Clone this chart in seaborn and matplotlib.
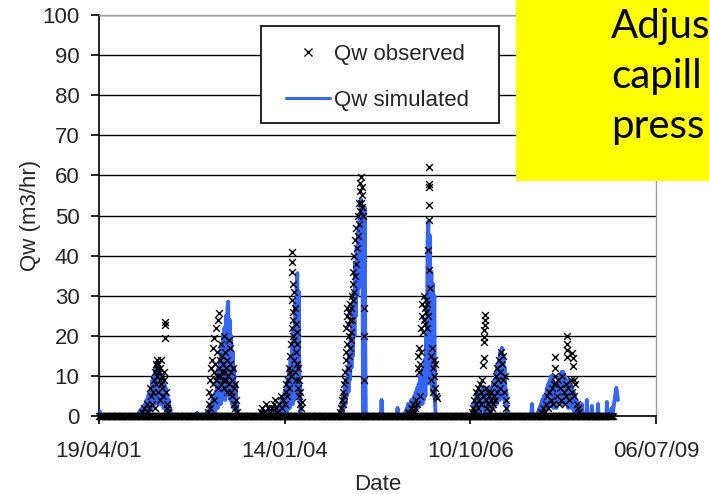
import numpy as np
import pandas as pd
import matplotlib
matplotlib.use("Agg")
import matplotlib.pyplot as plt
import matplotlib.dates as mdates
from matplotlib.patches import Rectangle
from matplotlib.lines import Line2D
import seaborn as sns

# start of record, all days below are counted from here
start = pd.Timestamp("2001-04-19")
tick_dates = ["2001-04-19", "2004-01-14", "2006-10-10", "2009-07-06"]

# observed flow is zero on every record outside the wet periods (daily records, every 3rd shown)
obs_zero_days = np.arange(0, 2769, 3)

# observed Qw (m3/hr) during the wet periods
obs_days_1 = [232, 243, 250, 259, 264, 270, 275, 280, 285, 291, 296, 300, 302, 305, 307, 310, 312, 315, 318,
              320, 323, 326, 329, 331, 334, 336, 339, 342, 345, 348, 350, 355, 356, 358, 361, 364, 367, 372]
obs_q_1 = [1, 2, 0.5, 3, 1, 2, 7, 5, 3, 6, 9, 2, 11, 13, 8, 14, 12, 10, 13,
           6, 11, 9, 12, 4, 8, 14, 10, 7, 5, 11, 9, 23.5, 22.8, 19.5, 6, 3, 2, 1]

obs_days_2 = [585, 590, 594, 598, 600, 603, 606, 609, 612, 614, 617, 620, 622, 625, 628, 630, 633, 636, 639,
              641, 644, 647, 650, 652, 655, 658, 660, 663, 666, 669, 672, 674, 677, 680, 683, 686, 689, 692,
              695, 698, 701, 704, 707, 710, 713, 716, 719, 722, 725, 728, 731, 734, 738, 742]
obs_q_2 = [1, 3, 6, 9, 2, 12, 5, 14, 8, 17, 11, 19.5, 4, 13, 22, 9, 16, 10, 24,
           7, 12, 25.8, 14, 10, 18, 8, 11, 15, 9, 13, 20, 7, 11, 16, 9, 12, 6, 14,
           10, 19, 8, 13, 17, 6, 11, 9, 5, 12, 7, 3, 8, 2, 4, 1]

obs_days_3 = [870, 880, 890, 900, 910, 920, 930, 940, 950, 955, 960, 970, 980, 985, 990, 1000, 1005, 1010,
              1015, 1020, 1023, 1026, 1029, 1031, 1033, 1035, 1037, 1039, 1040, 1041, 1042, 1043, 1044, 1045,
              1047, 1049, 1051, 1053, 1055, 1057, 1059, 1061, 1063, 1065, 1067, 1069, 1071, 1073, 1075, 1078,
              1081, 1085, 1089, 1093]
obs_q_3 = [1, 2, 1, 3, 2, 1, 2, 3, 4, 2, 1, 3, 5, 2, 4, 3, 6, 8,
           5, 9, 12, 7, 11, 15, 10, 18, 22, 29, 41, 38.5, 36, 33, 26, 20,
           24, 14, 31, 19, 27, 11, 23, 16, 9, 21, 13, 18, 7, 12, 5, 9,
           3, 6, 2, 3.5]

obs_days_4 = [1300, 1304, 1308, 1312, 1316, 1320, 1322, 1324, 1326, 1328, 1330, 1332, 1334, 1336, 1338, 1340,
              1342, 1344, 1346, 1348, 1350, 1352, 1354, 1356, 1358, 1360, 1362, 1364, 1366, 1368, 1370, 1372,
              1375, 1378, 1381, 1384, 1387, 1390, 1393, 1396, 1399, 1402, 1404, 1406, 1408, 1410, 1412, 1414,
              1416, 1418, 1420, 1427, 1428, 1429]
obs_q_4 = [1, 2, 4, 3, 6, 8, 5, 11, 9, 16, 22, 14, 25, 18, 27, 12,
           23, 15, 26, 20, 17, 24, 28, 21, 19, 27, 30, 24, 33, 29, 36, 31,
           40, 35, 44, 38, 47, 42, 50, 45, 53, 48, 56, 51, 58, 53, 59.5, 55,
           52, 57, 50, 27, 20, 9]

obs_days_5 = [1666, 1672, 1678, 1684, 1690, 1696, 1702, 1708, 1713, 1716, 1719, 1722, 1725, 1728, 1730, 1733,
              1736, 1739, 1742, 1745, 1748, 1751, 1754, 1757, 1760, 1763, 1766, 1769, 1772, 1774, 1775, 1776,
              1777, 1778, 1779, 1780, 1782, 1786, 1790, 1794, 1797, 1800, 1803, 1806, 1809, 1812, 1815, 1818]
obs_q_5 = [1, 0.5, 2, 1, 3, 1, 2, 4, 3, 12, 15, 11, 17, 13, 5, 16,
           22, 25, 28, 21, 30, 24, 27, 23, 29, 26, 22, 28, 25, 41.4, 49, 52.6,
           57, 57.8, 62, 36.4, 32, 15, 9, 17, 12, 6, 14, 10, 7, 13, 5, 4.5]

obs_days_6 = [2010, 2016, 2020, 2024, 2028, 2032, 2036, 2040, 2044, 2048, 2052, 2056, 2060, 2064, 2068, 2071,
              2073, 2074, 2075, 2076, 2077, 2078, 2079, 2082, 2086, 2090, 2094, 2098, 2102, 2106, 2110, 2114,
              2118, 2122, 2126, 2130, 2134, 2138, 2142, 2146, 2150, 2154, 2158, 2162, 2166, 2170, 2174, 2178,
              2182, 2186, 2190, 2194]
obs_q_6 = [1, 2, 4, 1, 6, 3, 5, 2, 7, 4, 8, 3, 6, 9, 5, 12.7,
           14.4, 18.5, 19.8, 21.5, 22.7, 24, 25.2, 4, 7, 2, 6, 3, 5, 1, 4, 6,
           2, 3, 5, 8, 4, 10, 6, 12, 9, 14, 7, 11, 16, 13, 9, 15,
           6, 10, 4, 2]

obs_days_7 = [2380, 2390, 2400, 2408, 2414, 2420, 2426, 2432, 2438, 2444, 2450, 2454, 2456, 2458, 2460, 2466,
              2472, 2478, 2484, 2490, 2496, 2502, 2508, 2514, 2518, 2520, 2521, 2522, 2523, 2528, 2534, 2540,
              2546, 2550, 2552, 2554, 2556, 2560, 2566, 2572, 2578, 2584]
obs_q_7 = [1, 2, 1, 3, 5, 2, 6, 4, 7, 3, 8, 14.8, 12, 10, 8.3, 5,
           9, 3, 7, 4, 10, 6, 3, 8, 5, 20, 18, 16.5, 14.8, 7, 4, 9,
           6, 15.6, 14.4, 12.4, 9, 5, 8, 3, 2, 1]

# simulated Qw (m3/hr), jumpy day to day
sim_days_0 = [0, 4, 7, 10, 524, 528, 532]
sim_q_0 = [0, 1.2, 0.4, 0, 0, 0.8, 0]

sim_days_1 = [212, 216, 220, 224, 228, 232, 236, 240, 244, 248, 252, 256, 260, 264, 268, 272, 276, 280, 284,
              288, 292, 296, 300, 304, 308, 312, 316, 320, 324, 328, 332, 336, 340, 344, 348, 352, 356, 360,
              364, 368, 372, 376, 380, 384, 388]
sim_q_1 = [0, 1, 0, 1.5, 0, 2, 0.5, 2.5, 0.5, 3, 1, 4, 1, 5, 1, 6, 2, 7, 2,
           9, 3, 10, 3, 12, 4, 13, 3, 12.5, 4, 11, 3, 10, 3, 9, 2, 8, 2, 7,
           1, 5, 1, 4, 0.5, 2, 0]

sim_days_2 = [576, 580, 584, 588, 592, 596, 600, 604, 608, 612, 616, 620, 624, 628, 632, 636, 640, 644, 648,
              652, 656, 660, 664, 668, 672, 676, 680, 684, 688, 692, 696, 700, 704, 708, 712, 716, 720, 724,
              728, 732, 736, 740, 744, 748]
sim_q_2 = [0, 1, 0, 1, 0, 2, 0.5, 2, 1, 4, 1, 5, 1, 6, 2, 10, 2, 12, 3,
           14, 3, 18, 4, 20, 5, 22, 4, 25, 6, 27, 28.5, 5, 24, 4, 20, 3, 16, 2,
           12, 2, 8, 1, 3, 0]

sim_days_3 = [860, 870, 880, 890, 900, 910, 920, 930, 940, 950, 960, 968, 972, 976, 980, 984, 988, 992,
              996, 1000, 1004, 1008, 1012, 1016, 1020, 1024, 1028, 1032, 1036, 1040, 1044, 1048, 1052, 1056,
              1060, 1064, 1068, 1072, 1076, 1080, 1083, 1086]
sim_q_3 = [0, 0.5, 0, 1, 0, 1, 0, 1.5, 0, 2, 0.5, 2.5, 0.5, 3, 0.5, 4, 1, 4,
           1, 6, 1, 7, 1, 9, 2, 12, 2, 14, 3, 18, 3, 22, 4, 28,
           5, 33, 35.6, 6, 31, 4, 8, 0]

sim_days_4 = [1295, 1300, 1304, 1308, 1312, 1316, 1320, 1324, 1328, 1332, 1336, 1340, 1344, 1348, 1352,
              1356, 1360, 1364, 1368, 1372, 1376, 1380, 1384, 1388, 1392, 1396, 1400, 1404, 1408, 1412,
              1416, 1419, 1422, 1425, 1428, 1431, 1434, 1437]
sim_q_4 = [0, 1, 0.5, 3, 1, 5, 2, 7, 3, 9, 5, 12, 6, 15, 9,
           20, 12, 26, 15, 31, 20, 38, 25, 42, 30, 46, 32, 50, 36, 54,
           40, 52, 5, 0, 35, 52, 20, 0]

sim_days_5 = [1518, 1522, 1526, 1604, 1608, 1612]
sim_q_5 = [0, 4, 0, 0, 2, 0]

sim_days_6 = [1645, 1650, 1654, 1658, 1662, 1666, 1670, 1674, 1678, 1682, 1686, 1690, 1694, 1698, 1702,
              1706, 1710, 1714, 1718, 1722, 1726, 1730, 1734, 1738, 1742, 1746, 1750, 1754, 1758, 1762,
              1766, 1770, 1774, 1778, 1782, 1786, 1790, 1794, 1798, 1802, 1806, 1810, 1814]
sim_q_6 = [0, 1, 0, 2, 0.5, 3, 0.5, 2, 1, 4, 1, 3, 1, 5, 1,
           6, 2, 7, 2, 8, 3, 10, 3, 9, 3, 12, 4, 14, 5, 20,
           8, 44, 48.5, 10, 45, 8, 36, 6, 33, 5, 30, 3, 0]

sim_days_7 = [2005, 2010, 2014, 2018, 2022, 2026, 2030, 2034, 2038, 2042, 2046, 2050, 2054, 2058, 2062,
              2066, 2070, 2074, 2078, 2082, 2086, 2090, 2094, 2098, 2102, 2106, 2110, 2114, 2118, 2122,
              2126, 2130, 2134, 2138, 2142, 2146, 2150, 2154, 2158, 2162, 2166, 2170, 2174, 2178, 2182,
              2186, 2190, 2194, 2198]
sim_q_7 = [0, 1, 0, 3, 0.5, 4, 1, 5, 1, 6, 1, 5, 1, 6, 2,
           7, 2, 6, 1, 7, 2, 6, 1, 7, 2, 6, 1, 7, 2, 8,
           2, 9, 3, 11, 3, 13, 4, 14, 4, 16, 5, 17, 5, 15, 4,
           12, 3, 6, 0]

sim_days_8 = [2328, 2332, 2336, 2360, 2364, 2368, 2372, 2376, 2380, 2384, 2388, 2392, 2396, 2400, 2404,
              2408, 2412, 2416, 2420, 2424, 2428, 2432, 2436, 2440, 2444, 2448, 2452, 2456, 2460, 2464,
              2468, 2472, 2476, 2480, 2484, 2488, 2492, 2496, 2500, 2504, 2508, 2512, 2516, 2520, 2524,
              2528, 2532, 2536, 2540, 2544, 2548, 2552, 2556, 2560, 2564, 2568, 2572, 2576, 2580, 2584]
sim_q_8 = [0, 3, 0, 0, 1, 0, 2, 0.5, 3, 1, 4, 1, 5, 1, 4,
           2, 7, 2, 8, 3, 9, 3, 10, 3, 9, 2, 8, 3, 7, 2,
           8, 3, 9, 3, 10, 4, 11, 3, 11, 4, 10, 3, 9, 3, 8,
           2, 9, 3, 8, 2, 7, 2, 6, 1, 5, 1, 4, 1, 3, 0]

sim_days_9 = [2598, 2601, 2604, 2625, 2628, 2631, 2652, 2655, 2658, 2685, 2688, 2691, 2733, 2736, 2739,
              2750, 2756, 2762, 2768, 2774, 2780, 2786, 2790, 2795]
sim_q_9 = [0, 3, 0, 0, 4, 0, 0, 2.5, 0, 0, 3, 0, 0, 3.5, 0,
           0, 1, 2, 1, 3, 5, 7, 6, 4]

# build the tables
obs_days = np.concatenate([obs_zero_days, obs_days_1, obs_days_2, obs_days_3, obs_days_4,
                           obs_days_5, obs_days_6, obs_days_7])
obs_q = np.concatenate([np.zeros(len(obs_zero_days)), obs_q_1, obs_q_2, obs_q_3, obs_q_4,
                        obs_q_5, obs_q_6, obs_q_7])
observed = pd.DataFrame({"Date": start + pd.to_timedelta(obs_days, unit="D"), "Qw": obs_q})

sim_days = np.concatenate([sim_days_0, sim_days_1, sim_days_2, sim_days_3, sim_days_4, sim_days_5,
                           sim_days_6, sim_days_7, sim_days_8, sim_days_9])
sim_q = np.concatenate([sim_q_0, sim_q_1, sim_q_2, sim_q_3, sim_q_4, sim_q_5,
                        sim_q_6, sim_q_7, sim_q_8, sim_q_9])
simulated = pd.DataFrame({"Date": start + pd.to_timedelta(sim_days, unit="D"), "Qw": sim_q})

sns.set_style("white")
plt.rcParams["font.family"] = ["Liberation Sans", "DejaVu Sans"]

blue = "#3366ff"
fs = 16

fig = plt.figure(figsize=(7.09, 4.94), dpi=100)
ax = fig.add_axes([0.1396, 0.1579, 0.7856, 0.8117])

sns.lineplot(data=simulated, x="Date", y="Qw", ax=ax, color=blue, lw=2.8,
             estimator=None, sort=False, zorder=3)
sns.scatterplot(data=observed, x="Date", y="Qw", ax=ax, marker="x", color="black",
                s=24, linewidth=1.0, zorder=4)
ax.collections[-1].set_clip_on(False)

ticks = pd.to_datetime(tick_dates)
ax.set_xlim(ticks[0], ticks[-1])
ax.set_xticks(ticks)
ax.xaxis.set_major_formatter(mdates.DateFormatter("%d/%m/%y"))
ax.set_ylim(0, 100)
ax.set_yticks(range(0, 101, 10))

ax.yaxis.grid(True, color="black", lw=1.0)
ax.xaxis.grid(False)
ax.set_axisbelow(True)
for side in ["left", "bottom"]:
    ax.spines[side].set_color("black")
    ax.spines[side].set_linewidth(1.2)
for side in ["top", "right"]:
    ax.spines[side].set_color("#a0a0a0")
    ax.spines[side].set_linewidth(1.0)
ax.tick_params(axis="both", direction="out", length=6, width=1.2, color="black",
               labelsize=fs, left=True, bottom=True)
ax.tick_params(axis="y", pad=8)
ax.tick_params(axis="x", pad=12)

ax.set_xlabel("Date", fontsize=fs, labelpad=9)
ax.set_ylabel("Qw (m3/hr)", fontsize=fs, labelpad=1)

# legend: entries without frame, box drawn at its place in the figure
handles = [Line2D([], [], ls="none", marker="x", color="black", ms=5.5, mew=1.0),
           Line2D([], [], color=blue, lw=2.2)]
leg = ax.legend(handles, ["Qw observed", "Qw simulated"], loc="upper left",
                bbox_to_anchor=(286 / 709, 1 - 44 / 494), bbox_transform=fig.transFigure,
                fontsize=fs, frameon=False, borderaxespad=0, borderpad=0,
                labelspacing=1.13, handlelength=2.0, handletextpad=0.15)
leg.set_zorder(6)
ax.add_patch(Rectangle((261 / 709, 1 - 123 / 494), 238 / 709, 97 / 494, transform=fig.transFigure,
                       facecolor="white", edgecolor="black", lw=1.2, zorder=5, clip_on=False))

# yellow slide label, cut off at the right edge of the picture
fig.add_artist(Rectangle((516 / 709, 1 - 181 / 494), 1, 1, transform=fig.transFigure,
                         facecolor="#ffff00", edgecolor="none", zorder=5))
for i, word in enumerate(["Adjus", "capill", "press"]):
    fig.text(611 / 709, 1 - (38 + 50 * i) / 494, word, fontsize=29, family=["Lato", "DejaVu Sans"],
             ha="left", va="baseline", color="black", zorder=6)

fig.savefig("out.png", dpi=100)
